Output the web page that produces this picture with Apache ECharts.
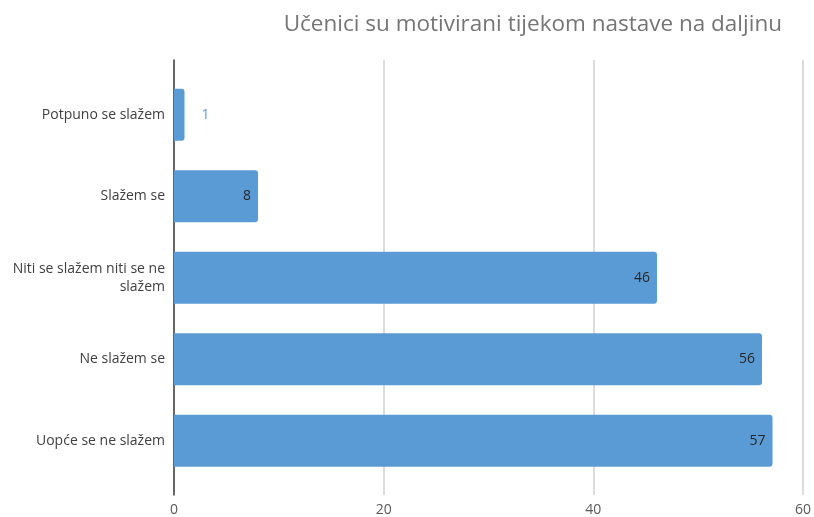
<!DOCTYPE html>
<html>
<head>
<meta charset="utf-8">
<script src="https://cdn.jsdelivr.net/npm/echarts@6/dist/echarts.min.js"></script>
<style>
  html, body { margin: 0; padding: 0; background: #fff; }
  #main { width: 814px; height: 517px; }
</style>
</head>
<body>
<div id="main"></div>
<script>
var categories = ["Potpuno se slažem", "Slažem se", "Niti se slažem niti se ne slažem", "Ne slažem se", "Uopće se ne slažem"];
var values = [1, 8, 46, 56, 57];
var xTicks = [0, 20, 40, 60];

var myChart = echarts.init(document.getElementById("main"));
var font = "'Open Sans', 'Noto Sans', sans-serif";

var seriesData = values.map(function (v) {
  // small bars get their label outside
  if (v < 5) {
    return {
      value: v,
      label: { position: "right", distance: 17, color: "#5b9bd5" }
    };
  }
  return v;
});

var option = {
  animation: false,
  title: {
    text: "Učenici su motivirani tijekom nastave na daljinu",
    right: 27,
    top: 8,
    textStyle: { fontFamily: font, fontSize: 22.5, fontWeight: "normal", color: "#757575" }
  },
  grid: [
    { left: 174, right: 10, top: 60, bottom: 22 },
    { left: 174, right: 10, top: 74, bottom: 35.5 }
  ],
  xAxis: [
    {
      gridIndex: 0,
      type: "value",
      min: xTicks[0],
      max: xTicks[xTicks.length - 1],
      interval: 20,
      axisLine: { show: false },
      axisTick: { show: false },
      splitLine: { lineStyle: { color: "#d0d0d0", width: 1.5 } },
      axisLabel: { fontFamily: font, fontSize: 14, color: "#595959", margin: 8 }
    },
    {
      gridIndex: 1,
      type: "value",
      min: xTicks[0],
      max: xTicks[xTicks.length - 1],
      show: false
    }
  ],
  yAxis: [
    {
      gridIndex: 0,
      type: "category",
      data: [""],
      axisLine: { show: true, lineStyle: { color: "#404040", width: 1.5 } },
      axisTick: { show: false },
      axisLabel: { show: false }
    },
    {
      gridIndex: 1,
      type: "category",
      inverse: true,
      data: categories,
      axisLine: { show: false },
      axisTick: { show: false },
      axisLabel: {
        fontFamily: font,
        fontSize: 14,
        color: "#404040",
        margin: 9,
        width: 160,
        overflow: "break",
        align: "right",
        lineHeight: 18
      }
    }
  ],
  series: [
    {
      type: "bar",
      xAxisIndex: 1,
      yAxisIndex: 1,
      data: seriesData,
      barWidth: 52,
      itemStyle: { color: "#5b9bd5", borderRadius: [0, 3, 3, 0] },
      label: {
        show: true,
        position: "insideRight",
        distance: 7,
        fontFamily: font,
        fontSize: 14,
        color: "#262626"
      }
    }
  ]
};

myChart.setOption(option);
</script>
</body>
</html>
